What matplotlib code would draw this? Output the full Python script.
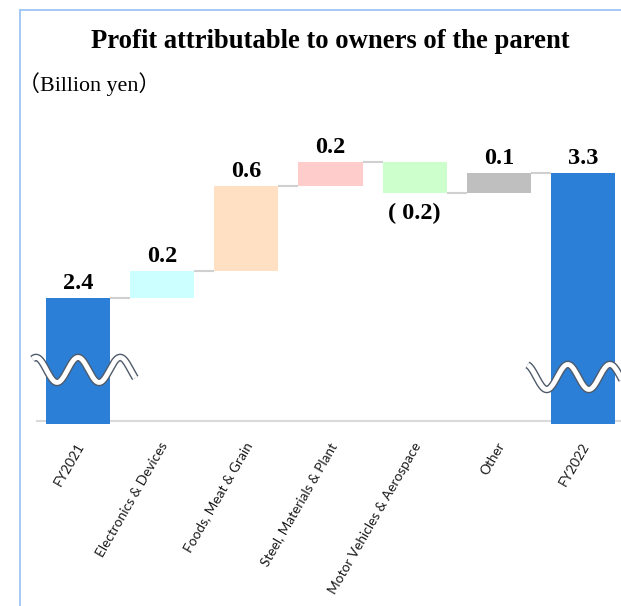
import numpy as np
import matplotlib
matplotlib.use("Agg")
import matplotlib.pyplot as plt
import matplotlib.patheffects as pe
from matplotlib.lines import Line2D
from matplotlib.transforms import ScaledTranslation

# ---- data ----
categories = ["FY2021", "Electronics & Devices", "Foods, Meat & Grain",
              "Steel, Materials & Plant", "Motor Vehicles & Aerospace",
              "Other", "FY2022"]
start_value = 2.4
changes = [0.19, 0.61, 0.17, -0.22, 0.14]
colors = ["#2B7FD6", "#CCFFFF", "#FFE0C2", "#FFCCCC", "#CCFFCC", "#BFBFBF", "#2B7FD6"]
axis_floor = 1.5
axis_top = 3.6

title = "Profit attributable to owners of the parent"
unit_label = "（Billion yen）"

def fmt(v):
    return f"( {abs(v):.1f})" if v < 0 else f"{v:.1f}"

# ---- figure ----
W, H = 621, 606
fig = plt.figure(figsize=(W / 100, H / 100), dpi=100)
ax = fig.add_axes([36 / W, (H - 424) / H, 585 / W, 294 / H])
ax.set_xlim(-0.5, 6.452)
ax.set_ylim(axis_floor, axis_top)
for s in ax.spines.values():
    s.set_visible(False)
ax.set_yticks([])

# baseline
ax.axhline(axis_floor + 3 / 140, color="#D9D9D9", lw=1.5, zorder=1)

end_value = start_value + sum(changes)
x = np.arange(len(categories))
width = 0.762
serif = "Liberation Serif"

bottoms, heights = [], []
cum = start_value
bottoms.append(axis_floor); heights.append(start_value - axis_floor)
for c in changes:
    if c >= 0:
        bottoms.append(cum); heights.append(c)
    else:
        bottoms.append(cum + c); heights.append(-c)
    cum += c
bottoms.append(axis_floor); heights.append(end_value - axis_floor)

ax.bar(x, heights, bottom=bottoms, width=width, color=colors, zorder=2)

# connectors
levels = [start_value]
cum = start_value
for c in changes:
    cum += c
    levels.append(cum)
for i, lv in enumerate(levels):
    ax.plot([x[i] + width / 2, x[i + 1] - width / 2], [lv, lv],
            color="#D0D0D0", lw=1.5, zorder=1, solid_capstyle="butt")

# value labels
vals = [start_value] + changes + [end_value]
for i, v in enumerate(vals):
    top = bottoms[i] + heights[i]
    if v >= 0:
        ax.annotate(fmt(v), (x[i], top), xytext=(0, 3), textcoords="offset points",
                    ha="center", va="bottom", fontsize=17.5, fontweight="bold",
                    family=serif)
    else:
        ax.annotate(fmt(v), (x[i], bottoms[i]), xytext=(0, -7), textcoords="offset points",
                    ha="center", va="top", fontsize=17.5, fontweight="bold",
                    family=serif)

# break marks (wavy)
A = 12.5 / 140
P = 0.5
def wave(xc, yc, x0, x1, phase):
    xs = np.linspace(x0, x1, 300)
    ys = yc + A * np.cos(2 * np.pi * (xs - phase) / P)
    ax.plot(xc + xs, ys, color="white", lw=3.5, zorder=5, clip_on=False,
            solid_capstyle="butt",
            path_effects=[pe.Stroke(linewidth=5.5, foreground="#4F5B6B"), pe.Normal()])
wave(x[0], 1.886, -0.54, 0.68, 0.0)
wave(x[-1], 1.836, -0.66, 0.6, -0.18)

# tick labels
ax.set_xticks(x)
ax.set_xticklabels(categories, rotation=60, ha="right", va="center",
                   rotation_mode="anchor", fontsize=9.8, family="Lato",
                   color="#1a1a1a")
ax.tick_params(axis="x", length=0, pad=14)
for lbl in ax.get_xticklabels():
    lbl.set_transform(lbl.get_transform() + ScaledTranslation(3 / 100, 0, fig.dpi_scale_trans))

# titles
fig.text(330.5 / W, 1 - 48.5 / H, title, ha="center", va="baseline",
         fontsize=19.2, fontweight="bold", family=serif)
fig.text(18 / W, 1 - 91 / H, unit_label, ha="left", va="baseline",
         fontsize=15.8, family=[serif, "Noto Sans CJK JP"])

# border
bc = "#9EC5F2"
fig.add_artist(Line2D([20 / W, 20 / W], [1 - 9.5 / H, 0], color=bc, lw=1.3,
                      transform=fig.transFigure))
fig.add_artist(Line2D([20 / W, 1], [1 - 9.5 / H, 1 - 9.5 / H], color=bc, lw=1.3,
                      transform=fig.transFigure))

fig.savefig("out.png", dpi=100)
